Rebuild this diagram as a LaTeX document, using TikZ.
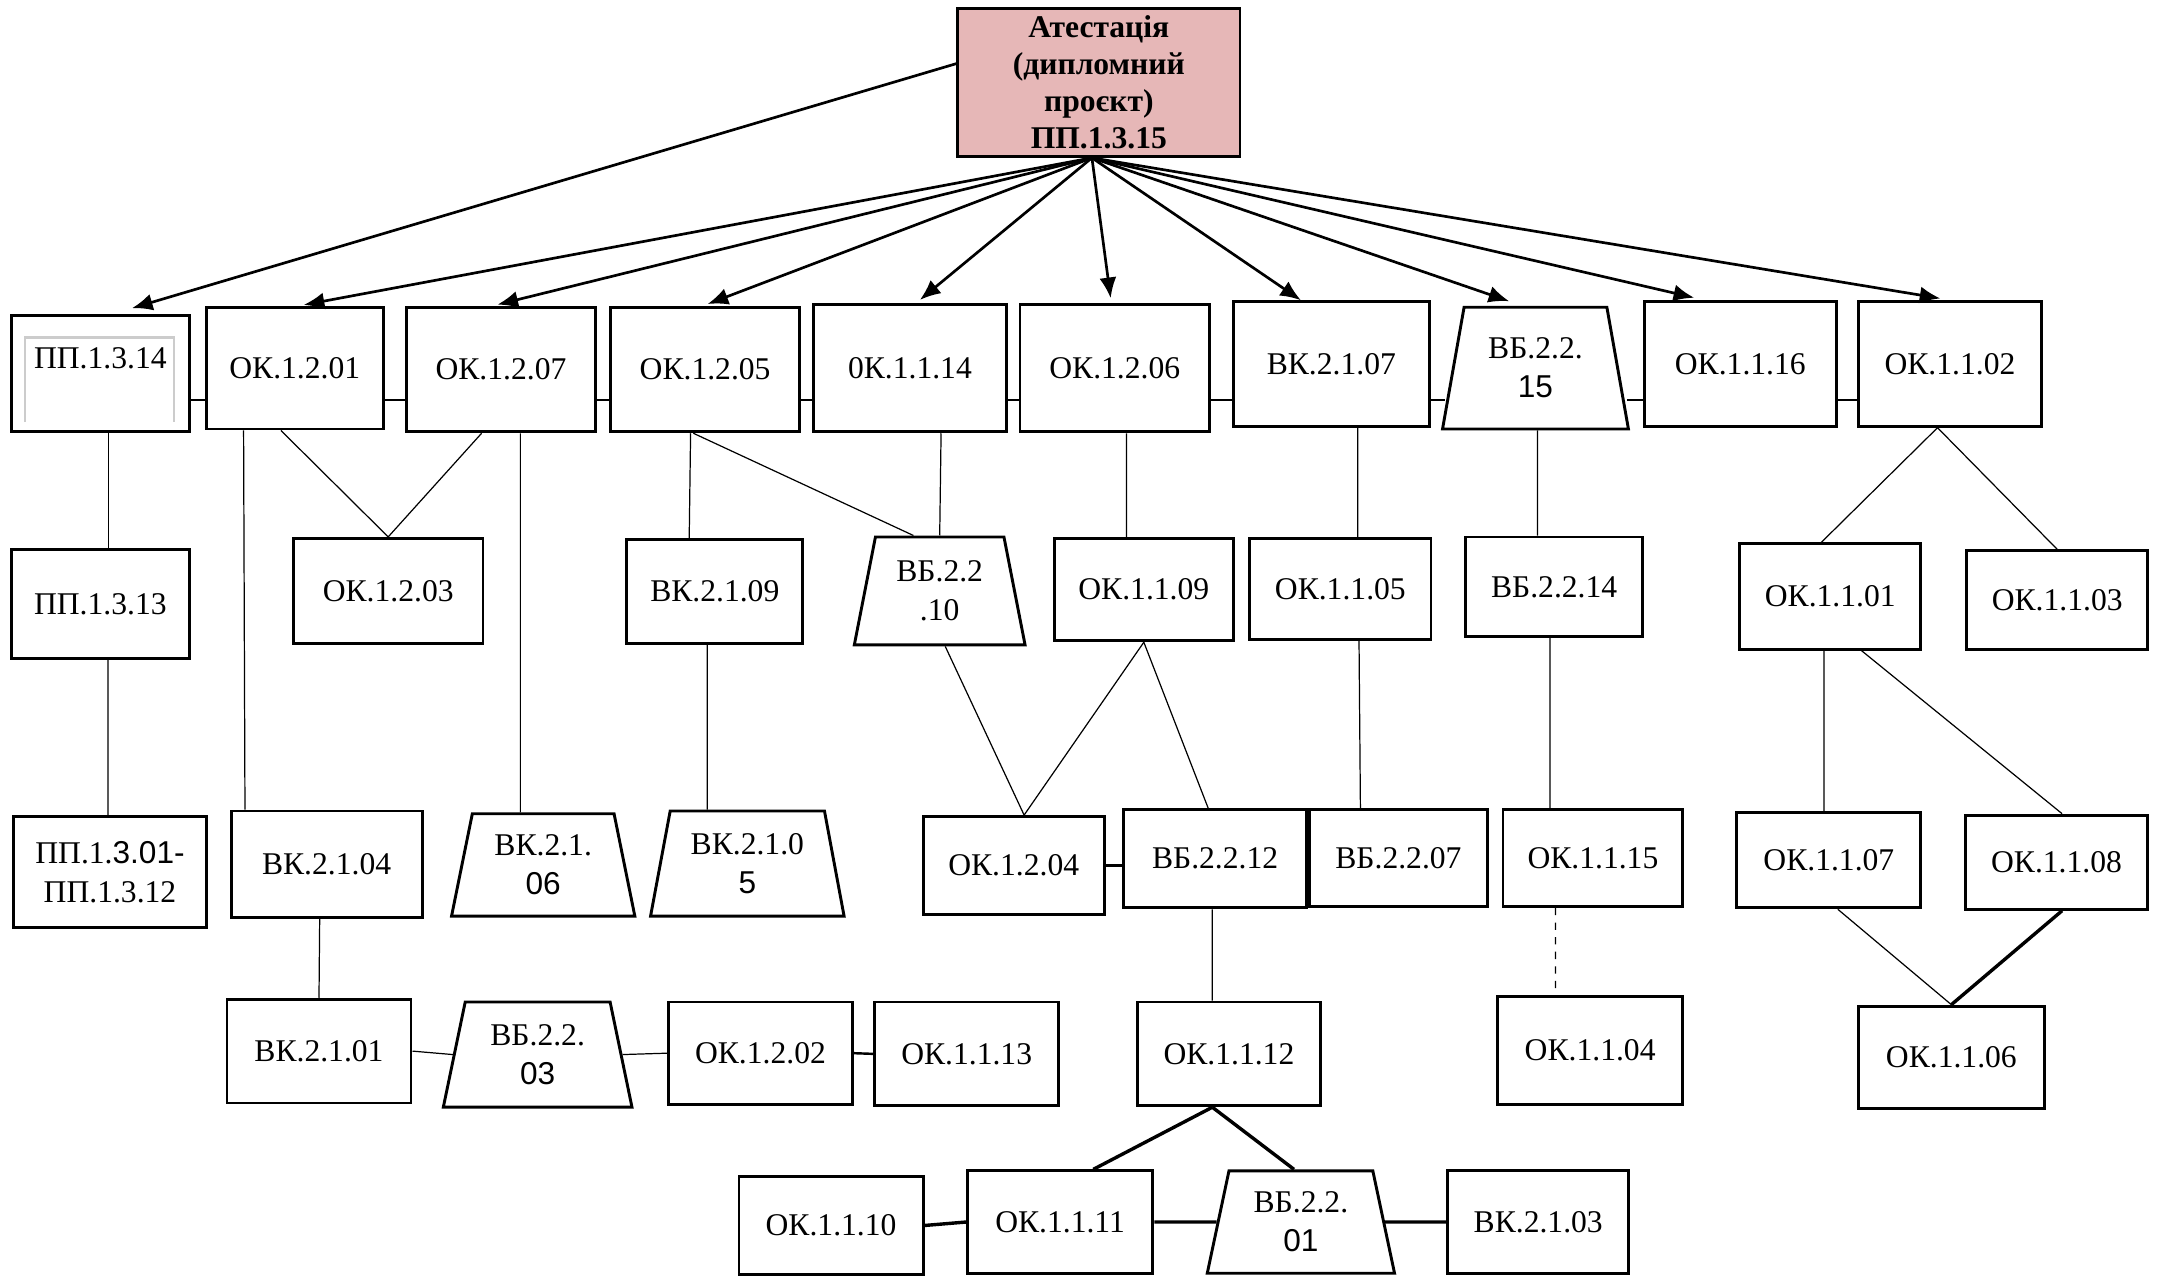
\documentclass[tikz,border=0pt]{standalone}
\usepackage{fontspec}
\setmainfont{Liberation Serif}
\newfontfamily\arialf{Liberation Sans}
\usetikzlibrary{shapes.geometric,arrows.meta}
\definecolor{attpink}{RGB}{230,183,183}

\begin{document}
\begin{tikzpicture}[
                x=0.02cm, y=-0.02cm,
                font=\fontsize{13}{16}\selectfont,
                box/.style 2 args={draw,line width=1.2pt,align=center,inner sep=1pt,
                  minimum width=#1*0.02cm,minimum height=#2*0.02cm},
                trap/.style 2 args={box={#1}{#2},trapezium,trapezium stretches=true,
                  trapezium left angle=77,trapezium right angle=77},
                arr/.style={-{Latex[length=8.5pt,width=7pt]},line width=1.1pt,shorten >=2pt},
                thin/.style={line width=0.5pt},
                link/.style={line width=1pt},
                thick link/.style={line width=1.4pt}]

\useasboundingbox (0,0) rectangle (1568,923);

                    % top
                    \node[box={204}{107},fill=attpink,
                      font=\fontsize{13}{15.2}\selectfont\bfseries] (ATT) at (794,59.5)
                      {Атестація\\(дипломний\\проєкт)\\ПП.1.3.15};
                    \coordinate (ATTs) at ([xshift=-0.1cm]ATT.south);

                    % 1
                    \node[box={129}{84}] (PP1314) at (72.5,270) {\raisebox{2pt}[0pt][0pt]{ПП.1.3.14}};
                    \node[box={128}{88}] (OK1201) at (213,266) {ОК.1.2.01};
                    \node[box={136}{90}] (OK1207) at (362,267) {ОК.1.2.07};
                    \node[box={137}{90}] (OK1205) at (509.5,267) {ОК.1.2.05};
                    \node[box={139}{92}] (OK1114) at (657.5,266) {0К.1.1.14};
                    \node[box={137}{92}] (OK1206) at (805.5,266) {ОК.1.2.06};
                    \node[box={142}{90}] (BK2107) at (962,263) {ВК.2.1.07};
                    \node[trap={135}{88}] (BB2215) at (1109.5,266) {ВБ.2.2.\\{\arialf 15}};
                    \node[box={139}{90}] (OK1116) at (1257.5,263) {ОК.1.1.16};
                    \node[box={132}{90}] (OK1102) at (1409,263) {ОК.1.1.02};

                    \draw[gray!40,line width=1pt] ([shift={(0.22cm,0.16cm)}]PP1314.south west)
                      |- ([shift={(-0.25cm,-0.34cm)}]PP1314.north east)
                      -- ([shift={(-0.25cm,0.16cm)}]PP1314.south east);

                    % 2
                    \node[box={129}{79}] (PP1313) at (72.5,436.5) {ПП.1.3.13};
                    \node[box={137}{76}] (OK1203) at (280.5,427) {ОК.1.2.03};
                    \node[box={127}{75}] (BK2109) at (516.5,427.5) {ВК.2.1.09};
                    \node[trap={124}{78}] (BB2210) at (679,427) {ВБ.2.2\\.10};
                    \node[box={129}{74}] (OK1109) at (826.5,426) {ОК.1.1.09};
                    \node[box={131}{73}] (OK1105) at (968.5,425.5) {ОК.1.1.05};
                    \node[box={128}{72}] (BB2214) at (1123,424) {ВБ.2.2.14};
                    \node[box={131}{76}] (OK1101) at (1322.5,431) {ОК.1.1.01};
                    \node[box={131}{71}] (OK1103) at (1486.5,433.5) {ОК.1.1.03};

                    % 3
                    \node[box={139}{80}] (PP1301) at (79.5,630) {ПП.1.{\arialf 3.01-}\\ПП.1.3.12};
                    \node[box={138}{77}] (BK2104) at (236,624.5) {ВК.2.1.04};
                    \node[trap={133}{74}] (BK2106) at (392.5,625) {ВК.2.1.\\{\arialf 06}};
                    \node[trap={140}{76}] (BK2105) at (540,624) {ВК.2.1.0\\{\arialf 5}};
                    \node[box={131}{71}] (OK1204) at (732.5,625.5) {ОК.1.2.04};
                    \node[box={132}{71}] (BB2212) at (878,620.5) {ВБ.2.2.12};
                    \node[box={129}{70}] (BB2207) at (1010.5,620) {ВБ.2.2.07};
                    \node[box={130}{70}] (OK1115) at (1151,620) {ОК.1.1.15};
                    \node[box={133}{69}] (OK1107) at (1321.5,621.5) {ОК.1.1.07};
                    \node[box={132}{68}] (OK1108) at (1486,623) {ОК.1.1.08};

                    % 4
                    \node[box={133}{75}] (BK2101) at (230.5,759.5) {ВК.2.1.01};
                    \node[trap={137}{76}] (BB2203) at (388.5,762) {ВБ.2.2.\\{\arialf 03}};
                    \node[box={133}{74}] (OK1202) at (549.5,761) {ОК.1.2.02};
                    \node[box={133}{75}] (OK1113) at (698.5,761.5) {ОК.1.1.13};
                    \node[box={132}{75}] (OK1112) at (888,761.5) {ОК.1.1.12};
                    \node[box={134}{78}] (OK1104) at (1149,759) {ОК.1.1.04};
                    \node[box={134}{74}] (OK1106) at (1410,764) {ОК.1.1.06};

                    % 5
                    \node[box={133}{71}] (OK1110) at (600.5,885.5) {ОК.1.1.10};
                    \node[box={134}{74}] (OK1111) at (766,883) {ОК.1.1.11};
                    \node[trap={136}{74}] (BB2201) at (940,883) {ВБ.2.2.\\{\arialf 01}};
                    \node[box={131}{74}] (BK2103) at (1111.5,883) {ВК.2.1.03};

                    % arrows
                    \draw[arr,shorten >=0.3cm] ([yshift=0.27cm]ATT.west) -- ([xshift=0.17cm]PP1314.north);
                    \draw[arr] (ATTs) -- ([xshift=0.06cm]OK1201.north);
                    \draw[arr] (ATTs) -- ([xshift=-0.12cm]OK1207.north);
                    \draw[arr] (ATTs) -- ([xshift=-0.03cm]OK1205.north);
                    \draw[arr] (ATTs) -- ([xshift=0.09cm]OK1114.north);
                    \draw[arr] (ATTs) -- ([xshift=-0.05cm]OK1206.north);
                    \draw[arr,shorten >=0pt] (ATTs) -- ([xshift=-0.44cm]BK2107.north);
                    \draw[arr,shorten >=0.2cm] (ATTs) -- ([xshift=-0.19cm]BB2215.north);
                    \draw[arr,shorten >=0.16cm] (ATTs) -- ([xshift=-0.51cm]OK1116.north);
                    \draw[arr,shorten >=0.16cm] (ATTs) -- ([xshift=0.02cm]OK1102.north);

                    % row 1 links
                    \coordinate (hrow) at (0,289);
                    \draw[link] (PP1314.east |- hrow) -- (OK1201.west |- hrow);
                    \draw[link] (OK1201.east |- hrow) -- (OK1207.west |- hrow);
                    \draw[link] (OK1207.east |- hrow) -- (OK1205.west |- hrow);
                    \draw[link] (OK1205.east |- hrow) -- (OK1114.west |- hrow);
                    \draw[link] (OK1114.east |- hrow) -- (OK1206.west |- hrow);
                    \draw[link] (OK1206.east |- hrow) -- (BK2107.west |- hrow);
                    \draw[link] (BK2107.east |- hrow) -- ([xshift=-0.1cm]BB2215.west |- hrow);
                    \draw[link] ([xshift=0.12cm]BB2215.east |- hrow) -- (OK1116.west |- hrow);
                    \draw[link] (OK1116.east |- hrow) -- (OK1102.west |- hrow);

                    % 1 -> 2 -> 3
                    \draw[thin] ([xshift=0.12cm]PP1314.south) -- ([xshift=0.12cm]PP1313.north);
                    \draw[thin] ([xshift=-0.74cm]OK1201.south) -- ([xshift=-1.18cm]BK2104.north);
                    \draw[thin] ([xshift=-0.2cm]OK1201.south) -- (OK1203.north);
                    \draw[thin] ([xshift=-0.28cm]OK1207.south) -- (OK1203.north);
                    \draw[thin] ([xshift=0.28cm]OK1207.south) -- ([xshift=-0.33cm]BK2106.north);
                    \draw[thin] ([xshift=-0.21cm]OK1205.south) -- ([xshift=-0.37cm]BK2109.north);
                    \draw[thin] ([xshift=-0.17cm]OK1205.south) -- ([xshift=-0.38cm]BB2210.north);
                    \draw[thin] ([xshift=0.45cm]OK1114.south) -- (BB2210.north);
                    \draw[thin] ([xshift=0.17cm]OK1206.south) -- ([xshift=-0.25cm]OK1109.north);
                    \draw[thin] ([xshift=0.38cm]BK2107.south) -- ([xshift=0.25cm]OK1105.north);
                    \draw[thin] ([xshift=0.03cm]BB2215.south) -- ([xshift=-0.24cm]BB2214.north);
                    \draw[thin] ([xshift=-0.18cm]OK1102.south) -- ([xshift=-0.13cm]OK1101.north);
                    \draw[thin] ([xshift=-0.18cm]OK1102.south) -- (OK1103.north);

                    \draw[thin] ([xshift=0.11cm]PP1313.south) -- ([xshift=-0.03cm]PP1301.north);
                    \draw[thin] ([xshift=-0.11cm]BK2109.south) -- ([xshift=-0.58cm]BK2105.north);
                    \draw[thin] ([xshift=0.08cm]BB2210.south) -- ([xshift=0.15cm]OK1204.north);
                    \draw[thin] (OK1109.south) -- ([xshift=0.15cm]OK1204.north);
                    \draw[thin] (OK1109.south) -- ([xshift=-0.1cm]BB2212.north);
                    \draw[thin] ([xshift=0.27cm]OK1105.south) -- ([xshift=-0.55cm]BB2207.north);
                    \draw[thin] ([xshift=-0.06cm]BB2214.south) -- ([xshift=-0.62cm]OK1115.north);
                    \draw[thin] ([xshift=-0.09cm]OK1101.south) -- ([xshift=-0.07cm]OK1107.north);
                    \draw[thin] ([xshift=0.45cm]OK1101.south) -- ([xshift=0.08cm]OK1108.north);

                    % 3
                    \draw[link] (OK1204.east) -- (BB2212.west |- OK1204.east);
                    \draw[link] (BB2212.east) -- (BB2207.west);

                    % 3 -> 4 -> 5
                    \draw[thin] ([xshift=-0.1cm]BK2104.south) -- (BK2101.north);
                    \draw[thin] ([xshift=-0.04cm]BB2212.south) -- ([xshift=-0.24cm]OK1112.north);
                    \draw[thin,dashed] ([xshift=-0.54cm]OK1115.south) -- ([xshift=-0.5cm]OK1104.north);
                    \draw[thin] ([xshift=0.13cm]OK1107.south) -- (OK1106.north);
                    \draw[thick link] ([xshift=0.08cm]OK1108.south) -- (OK1106.north);

                    \draw[thin] (BK2101.east) -- (BB2203.west);
                    \draw[thin] (BB2203.east) -- (OK1202.west);
                    \draw[link] (OK1202.east) -- (OK1113.west);

                    \draw[thick link] ([xshift=-0.24cm]OK1112.south) -- ([xshift=0.48cm]OK1111.north);
                    \draw[thick link] ([xshift=-0.24cm]OK1112.south) -- ([xshift=-0.1cm]BB2201.north);

                    \draw[thick link] (OK1110.east) -- (OK1111.west);
                    \draw[thick link] (OK1111.east) -- (BB2201.west);
                    \draw[thick link] (BB2201.east) -- (BK2103.west);

\end{tikzpicture}
\end{document}
